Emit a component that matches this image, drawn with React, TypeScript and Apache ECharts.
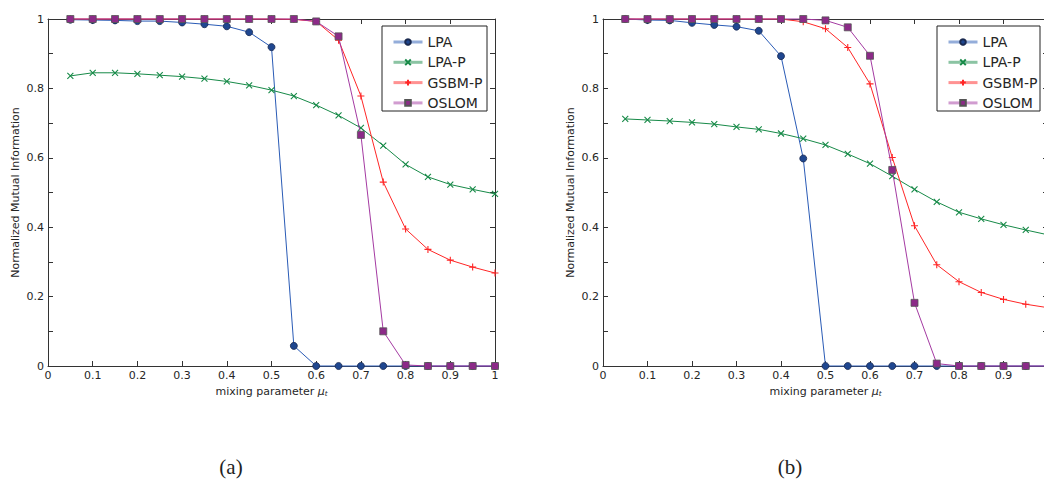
import React, { useEffect, useRef } from "react";
import * as echarts from "echarts";

const X = [0.05, 0.1, 0.15, 0.2, 0.25, 0.3, 0.35, 0.4, 0.45, 0.5, 0.55, 0.6, 0.65, 0.7, 0.75, 0.8, 0.85, 0.9, 0.95, 1.0];
const SERIES_NAMES = ["LPA", "LPA-P", "GSBM-P", "OSLOM"];

// Panel (a)
const LPA_A = [0.998, 0.997, 0.996, 0.994, 0.994, 0.99, 0.985, 0.979, 0.962, 0.919, 0.058, 0, 0, 0, 0, 0, 0, 0, 0, 0];
const LPAP_A = [0.836, 0.845, 0.845, 0.842, 0.838, 0.834, 0.828, 0.82, 0.809, 0.795, 0.778, 0.752, 0.722, 0.686, 0.635, 0.581, 0.545, 0.523, 0.509, 0.496];
const GSBM_A = [1, 1, 1, 1, 1, 1, 1, 1, 1, 1, 0.999, 0.993, 0.939, 0.778, 0.53, 0.395, 0.336, 0.305, 0.285, 0.268];
const OSLOM_A = [1, 1, 1, 1, 1, 1, 1, 1, 1, 1, 1, 0.993, 0.95, 0.666, 0.1, 0.003, 0, 0, 0, 0];

// Panel (b)
const LPA_B = [1, 0.997, 0.996, 0.989, 0.983, 0.978, 0.966, 0.893, 0.598, 0, 0, 0, 0, 0, 0, 0, 0, 0, 0, 0];
const LPAP_B = [0.712, 0.709, 0.706, 0.702, 0.697, 0.689, 0.682, 0.67, 0.655, 0.637, 0.611, 0.583, 0.547, 0.509, 0.473, 0.443, 0.424, 0.407, 0.392, 0.378];
const GSBM_B = [1, 1, 1, 1, 1, 1, 1, 1, 0.992, 0.972, 0.918, 0.813, 0.601, 0.404, 0.292, 0.243, 0.212, 0.192, 0.178, 0.168];
const OSLOM_B = [1, 1, 1, 1, 1, 1, 1, 1, 1, 0.996, 0.976, 0.894, 0.565, 0.182, 0.007, 0, 0, 0, 0, 0];

const X_TICK_INTERVAL = 0.1;
const Y_TICK_INTERVAL = 0.1;
const CAPTIONS = ["(a)", "(b)"];
const Y_NAME = "Normalized Mutual Information";

const FONT = "DejaVu Sans";
const TXT = "#262626";
const FRAME = "#333";

const X_SYM = "path://M0,0L10,10M10,0L0,10";
const PLUS_SYM = "path://M5,0L5,10M0,5L10,5";

const STYLES = [
  { color: "#2a5bb6", symbol: "circle", size: 7, fill: "#1f4790", border: "#1a2a50", bw: 0.8 },
  { color: "#178a48", symbol: X_SYM, size: 6, fill: "#178a48", border: "#178a48", bw: 1.1 },
  { color: "#ff2626", symbol: PLUS_SYM, size: 7, fill: "#ff2626", border: "#ff2626", bw: 1.1 },
  { color: "#a43aa2", symbol: "rect", size: 7, fill: "#8c2a88", border: "#555", bw: 0.8 },
];

function pairs(vals: number[]) {
  return X.map((x, i) => [x, vals[i]]);
}

function mkSeries(name: string, idx: number, vals: number[], axisIdx: number) {
  const s = STYLES[idx];
  return {
    name,
    type: "line",
    xAxisIndex: axisIdx,
    yAxisIndex: axisIdx,
    data: pairs(vals),
    symbol: s.symbol,
    symbolSize: s.size,
    showSymbol: true,
    clip: false,
    lineStyle: { color: s.color, width: 1 },
    itemStyle: { color: s.fill, borderColor: s.border, borderWidth: s.bw },
    z: 2 + idx * 0.1,
  };
}

function xLabelFull(v: number) {
  return String(Math.round(v * 10) / 10);
}
// Panel (b) is cropped at the right edge, so its "1" label is not visible
function xLabelCropped(v: number) {
  return v >= 0.999 ? "" : String(Math.round(v * 10) / 10);
}

function xAxes(grid: number, formatter: (v: number) => string) {
  const common = {
    type: "value",
    gridIndex: grid,
    min: 0,
    max: 1,
    interval: X_TICK_INTERVAL,
    splitLine: { show: false },
    axisLine: { show: true, onZero: false, lineStyle: { color: FRAME, width: 1 } },
    axisTick: { show: true, inside: true, length: 5, lineStyle: { color: FRAME } },
  };
  return [
    {
      ...common,
      position: "bottom",
      axisLabel: { show: true, formatter, fontSize: 11, fontFamily: FONT, color: TXT, margin: 4 },
      name: "{a|mixing parameter }{mu|μ}{sub|t}",
      nameLocation: "middle",
      nameGap: 18,
      nameTextStyle: {
        fontSize: 11,
        fontFamily: FONT,
        color: TXT,
        rich: {
          a: { fontSize: 11, fontFamily: FONT, color: TXT },
          mu: { fontSize: 11, fontFamily: FONT, fontStyle: "italic", color: TXT },
          sub: { fontSize: 7, fontFamily: FONT, fontStyle: "italic", color: TXT, padding: [6, 0, 0, 0] },
        },
      },
    },
    { ...common, position: "top", axisLabel: { show: false } },
  ];
}

function yLabel(v: number) {
  const k = Math.round(v * 10);
  if (k % 2 !== 0) return "";
  return String(k / 10);
}

function yAxes(grid: number) {
  const common = {
    type: "value",
    gridIndex: grid,
    min: 0,
    max: 1,
    interval: Y_TICK_INTERVAL,
    splitLine: { show: false },
    axisLine: { show: true, onZero: false, lineStyle: { color: FRAME, width: 1 } },
    axisTick: { show: true, inside: true, length: 5, lineStyle: { color: FRAME } },
  };
  return [
    {
      ...common,
      position: "left",
      axisLabel: { show: true, formatter: yLabel, fontSize: 11, fontFamily: FONT, color: TXT, margin: 4 },
      name: Y_NAME,
      nameLocation: "middle",
      nameGap: 27,
      nameTextStyle: { fontSize: 11, fontFamily: FONT, color: TXT },
    },
    { ...common, position: "right", axisLabel: { show: false } },
  ];
}

function legend(left: number) {
  return {
    orient: "vertical",
    left,
    top: 30,
    itemWidth: 29,
    itemHeight: 7,
    itemGap: 6.3,
    data: SERIES_NAMES,
    selectedMode: false,
    lineStyle: { width: 3, opacity: 0.5 },
    textStyle: { fontSize: 14, fontFamily: FONT, color: TXT, lineHeight: 14 },
    z: 6,
  };
}

export default function App() {
  const ref = useRef<HTMLDivElement>(null);
  useEffect(() => {
    if (!ref.current) return;
    const chart = echarts.init(ref.current, undefined, { renderer: "svg" });
    const grids = [
      { left: 48, top: 19, width: 447, height: 347, outerBoundsMode: "none", containLabel: false },
      { left: 603, top: 19, width: 445, height: 347, outerBoundsMode: "none", containLabel: false },
    ];
    const xa = [...xAxes(0, xLabelFull), ...xAxes(1, xLabelCropped)];
    const ya = [...yAxes(0), ...yAxes(1)];
    const series = [
      mkSeries("LPA", 0, LPA_A, 0),
      mkSeries("LPA-P", 1, LPAP_A, 0),
      mkSeries("GSBM-P", 2, GSBM_A, 0),
      mkSeries("OSLOM", 3, OSLOM_A, 0),
      mkSeries("LPA", 0, LPA_B, 2),
      mkSeries("LPA-P", 1, LPAP_B, 2),
      mkSeries("GSBM-P", 2, GSBM_B, 2),
      mkSeries("OSLOM", 3, OSLOM_B, 2),
    ];
    chart.setOption({
      animation: false,
      backgroundColor: "#fff",
      grid: grids,
      xAxis: xa,
      yAxis: ya,
      legend: [legend(387), legend(942)],
      series,
      graphic: [
        { type: "rect", shape: { x: 382, y: 26, width: 105, height: 85 }, style: { fill: "#fff", stroke: "#222", lineWidth: 1 }, z: 5 },
        { type: "rect", shape: { x: 937, y: 26, width: 103, height: 85 }, style: { fill: "#fff", stroke: "#222", lineWidth: 1 }, z: 5 },
        { type: "text", x: 231, y: 467, style: { text: CAPTIONS[0], fontSize: 21, fontFamily: "Liberation Serif", fill: "#222", textAlign: "center", textVerticalAlign: "middle" } },
        { type: "text", x: 790, y: 467, style: { text: CAPTIONS[1], fontSize: 21, fontFamily: "Liberation Serif", fill: "#222", textAlign: "center", textVerticalAlign: "middle" } },
      ],
    });
    return () => chart.dispose();
  }, []);
  return <div ref={ref} style={{ position: "fixed", left: 0, top: 0, width: 1044, height: 481 }} />;
}
